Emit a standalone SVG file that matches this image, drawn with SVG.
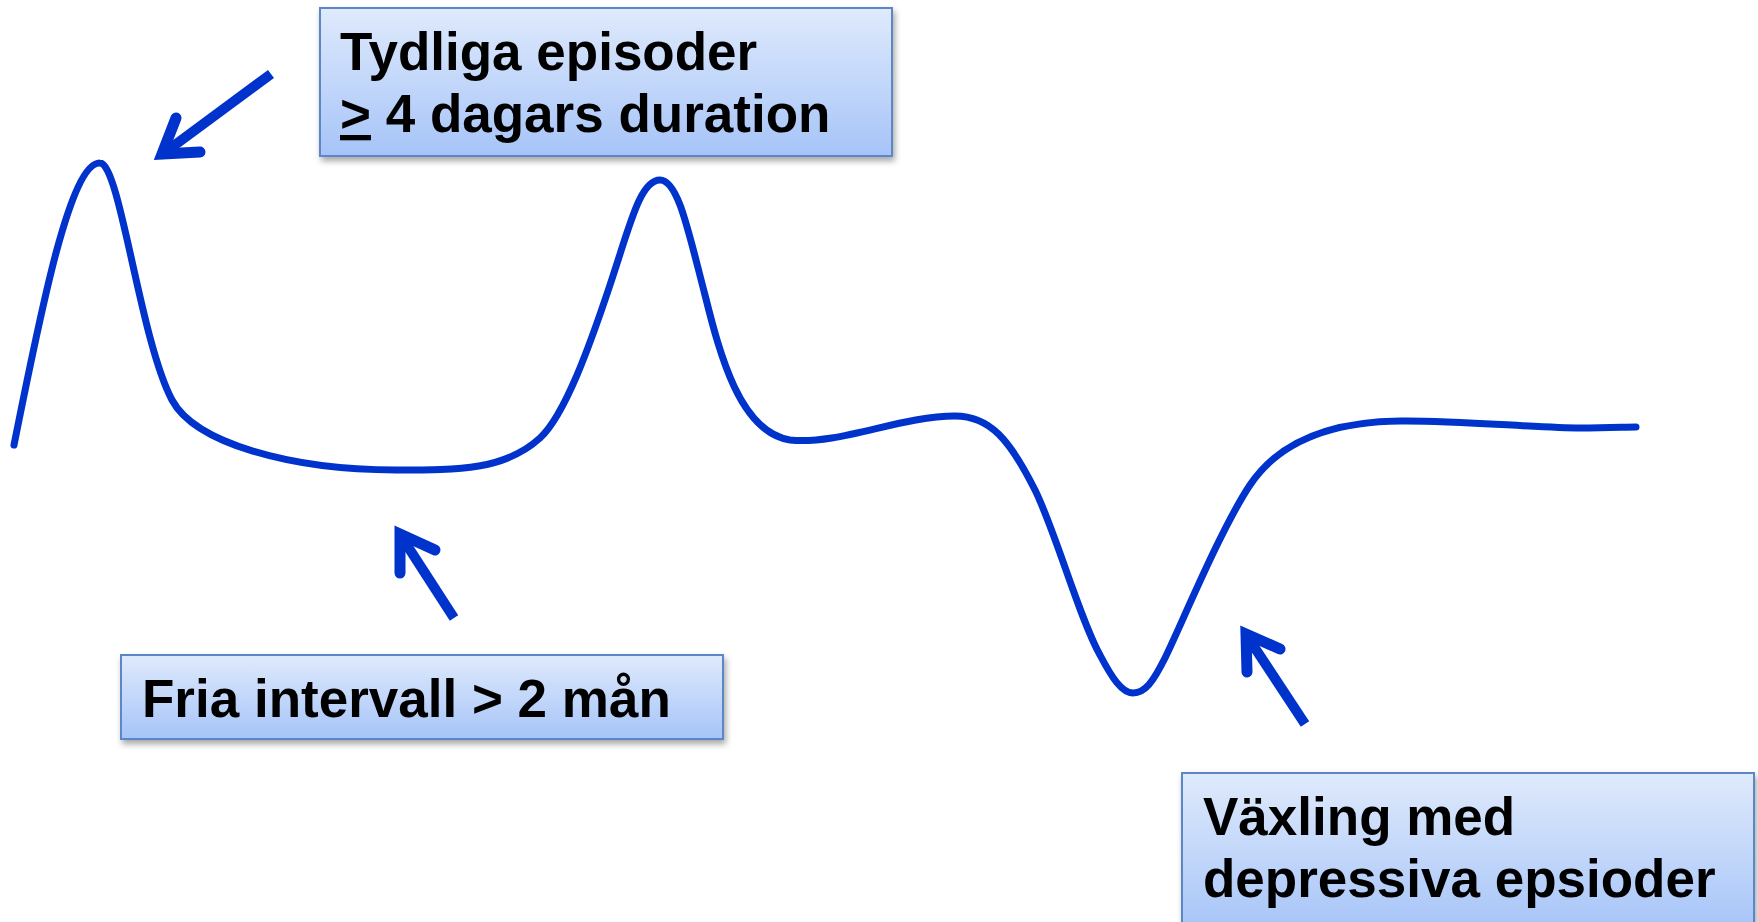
<svg xmlns="http://www.w3.org/2000/svg" width="1758" height="922" viewBox="0 0 1758 922">
<defs>
<linearGradient id="boxGrad" x1="0" y1="0" x2="0" y2="1">
<stop offset="0" stop-color="#dfeafc"/>
<stop offset="1" stop-color="#a6c4f8"/>
</linearGradient>
<filter id="shadow" x="-5%" y="-10%" width="110%" height="130%">
<feDropShadow dx="2" dy="4" stdDeviation="3" flood-color="#000" flood-opacity="0.35"/>
</filter>
<style>
.box{fill:url(#boxGrad);stroke:#5b86c5;stroke-width:2;filter:url(#shadow)}
.lbl{font-family:"Liberation Sans",Arial,sans-serif;font-weight:bold;font-size:53px;fill:#000}
.curve{fill:none;stroke:#0033cc;stroke-width:7;stroke-linecap:round;stroke-linejoin:round}
.shaft{fill:none;stroke:#0033cc;stroke-width:10;stroke-linecap:butt}
.head{fill:none;stroke:#0033cc;stroke-width:11;stroke-linecap:round;stroke-linejoin:miter;stroke-miterlimit:10}
</style>
</defs>
<rect width="1758" height="922" fill="#fff"/>

<g id="curve">
<path class="curve" d="M14,445 C40,315 70,162 100,163 C120,163 140,340 172,400 C195,443 290,470 396,470 C460,470 505,470 540,438 C565,415 590,345 610,285 C630,225 640,180 660,180 C678,180 688,230 705,295 C720,355 740,432 790,440 C840,445 900,416 955,416 C990,416 1010,440 1035,490 C1055,530 1080,620 1100,655 C1112,678 1122,693 1133,693 C1145,693 1153,682 1165,658 C1180,628 1220,530 1250,485 C1270,455 1310,422 1400,421 C1450,420 1540,428 1580,428 C1610,428 1625,427 1636,427"/>
</g>

<g id="connectors">
<g id="arrow-episodes">
<line class="shaft" x1="271" y1="74" x2="164" y2="153"/>
<polyline class="head" points="176,118 162,154 200,152"/>
</g>
<g id="arrow-interval">
<line class="shaft" x1="454" y1="618" x2="401" y2="536"/>
<polyline class="head" points="400,573 400,534 435,550"/>
</g>
<g id="arrow-depressive">
<line class="shaft" x1="1305" y1="724" x2="1247" y2="636"/>
<polyline class="head" points="1247,672 1246,634 1280,649"/>
</g>
</g>

<g id="node-episodes">
<rect class="box" x="320" y="8" width="572" height="148"/>
<text class="lbl" x="340" y="70">Tydliga episoder</text>
<text class="lbl" x="340" y="132"><tspan style="text-decoration:underline">&gt;</tspan> 4 dagars duration</text>
</g>

<g id="node-interval">
<rect class="box" x="121" y="655" width="602" height="84"/>
<text class="lbl" x="142" y="717">Fria intervall &gt; 2 mån</text>
</g>

<g id="node-depressive">
<rect class="box" x="1182" y="773" width="572" height="160"/>
<text class="lbl" x="1203" y="835">Växling med</text>
<text class="lbl" x="1203" y="897">depressiva epsioder</text>
</g>
</svg>
